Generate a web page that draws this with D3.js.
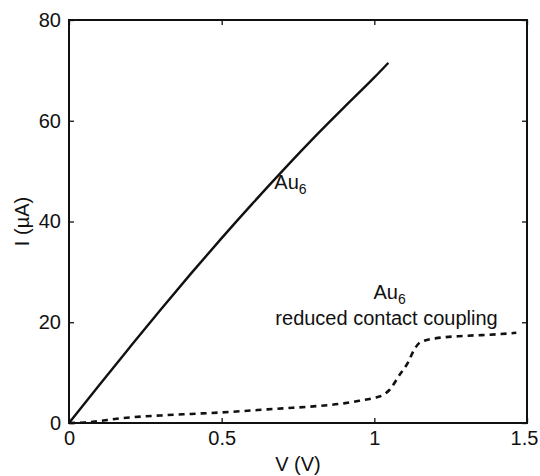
<!DOCTYPE html>
<html>
<head>
<meta charset="utf-8">
<script src="https://cdn.jsdelivr.net/npm/d3@7/dist/d3.min.js"></script>
<style>
  html, body { margin: 0; padding: 0; background: #fff; }
  svg { display: block; font-family: "Liberation Sans", Arial, Helvetica, sans-serif; }
</style>
</head>
<body>
<svg id="chart" width="540" height="476"></svg>
<script>
// Current–voltage characteristics of an Au6 cluster junction
const xTicks = [0, 0.5, 1, 1.5];
const xTickLabels = ["0", "0.5", "1", "1.5"];
const yTicks = [0, 20, 40, 60, 80];
const yTickLabels = ["0", "20", "40", "60", "80"];

// Strong contact coupling (solid)
const vStrong = [0, 0.1, 0.2, 0.3, 0.4, 0.5, 0.6, 0.7, 0.8, 0.9, 1.0, 1.046];
const iStrong = [0, 7.6, 15.1, 22.5, 29.7, 36.7, 43.5, 50.1, 56.5, 62.6, 68.6, 71.5];

// Reduced contact coupling (dashed)
const vWeak = [0, 0.05, 0.1, 0.15, 0.2, 0.3, 0.4, 0.5, 0.6, 0.7, 0.8, 0.9, 0.95, 1.0, 1.03, 1.05, 1.08, 1.11, 1.13, 1.15, 1.2, 1.3, 1.4, 1.465];
const iWeak = [0, 0.1, 0.4, 0.8, 1.1, 1.5, 1.8, 2.1, 2.5, 2.9, 3.3, 3.9, 4.4, 5.0, 5.6, 6.6, 9.3, 12.0, 14.5, 16.0, 16.8, 17.3, 17.6, 17.9];

const svg = d3.select("#chart");
const L = 69, R = 527, T = 20, B = 423;

const x = d3.scaleLinear().domain([0, 1.5]).range([L, R]);
const y = d3.scaleLinear().domain([0, 80]).range([B, T]);

const tickLen = 5;
const fs = 20;

// Axes with inward ticks on all four sides
svg.append("g").attr("transform", `translate(0,${B})`)
  .call(d3.axisBottom(x).tickValues(xTicks).tickSizeInner(-tickLen).tickSizeOuter(0)
    .tickPadding(8).tickFormat((d, i) => xTickLabels[i]))
  .call(g => g.select(".domain").remove())
  .call(g => g.selectAll("text").attr("font-size", fs).attr("fill", "#111").attr("dy", "0.71em"))
  // keep the last label inside the page edge
  .call(g => g.selectAll("text").filter(d => d === 1.5).attr("dx", -3));

svg.append("g").attr("transform", `translate(0,${T})`)
  .call(d3.axisTop(x).tickValues(xTicks).tickSizeInner(-tickLen).tickSizeOuter(0).tickFormat(""))
  .call(g => g.select(".domain").remove());

svg.append("g").attr("transform", `translate(${L},0)`)
  .call(d3.axisLeft(y).tickValues(yTicks).tickSizeInner(-tickLen).tickSizeOuter(0)
    .tickPadding(8).tickFormat((d, i) => yTickLabels[i]))
  .call(g => g.select(".domain").remove())
  .call(g => g.selectAll("text").attr("font-size", fs).attr("fill", "#111"));

svg.append("g").attr("transform", `translate(${R},0)`)
  .call(d3.axisRight(y).tickValues(yTicks).tickSizeInner(-tickLen).tickSizeOuter(0).tickFormat(""))
  .call(g => g.select(".domain").remove());

svg.selectAll(".tick line").attr("stroke", "#111").attr("stroke-width", 1.3);

// Frame
svg.append("rect")
  .attr("x", L).attr("y", T).attr("width", R - L).attr("height", B - T)
  .attr("fill", "none").attr("stroke", "#111").attr("stroke-width", 2);

// Curves
const line = d3.line().x(d => x(d[0])).y(d => y(d[1])).curve(d3.curveMonotoneX);

svg.append("path")
  .datum(vStrong.map((v, i) => [v, iStrong[i]]))
  .attr("d", line)
  .attr("fill", "none").attr("stroke", "#111").attr("stroke-width", 2.4);

svg.append("path")
  .datum(vWeak.map((v, i) => [v, iWeak[i]]))
  .attr("d", line)
  .attr("fill", "none").attr("stroke", "#111").attr("stroke-width", 2.6)
  .attr("stroke-dasharray", "6,5");

// Curve annotations
function auLabel(cx, cy, anchor) {
  const t = svg.append("text").attr("x", cx).attr("y", cy)
    .attr("font-size", fs).attr("fill", "#111").attr("text-anchor", anchor);
  t.append("tspan").text("Au");
  t.append("tspan").attr("font-size", 14).attr("dy", 5).text("6");
  return t;
}
auLabel(x(0.6725), y(46.5), "start");
auLabel(x(1.05), y(24.6), "middle");
svg.append("text")
  .attr("x", x(1.04)).attr("y", y(19.5))
  .attr("font-size", fs).attr("fill", "#111").attr("text-anchor", "middle")
  .text("reduced contact coupling");

// Axis titles
svg.append("text")
  .attr("x", x(0.75)).attr("y", 471)
  .attr("font-size", fs).attr("fill", "#111").attr("text-anchor", "middle")
  .text("V (V)");

svg.append("text")
  .attr("transform", `translate(29,${(T + B) / 2}) rotate(-90)`)
  .attr("font-size", fs).attr("fill", "#111").attr("text-anchor", "middle")
  .text("I (µA)");
</script>
</body>
</html>
